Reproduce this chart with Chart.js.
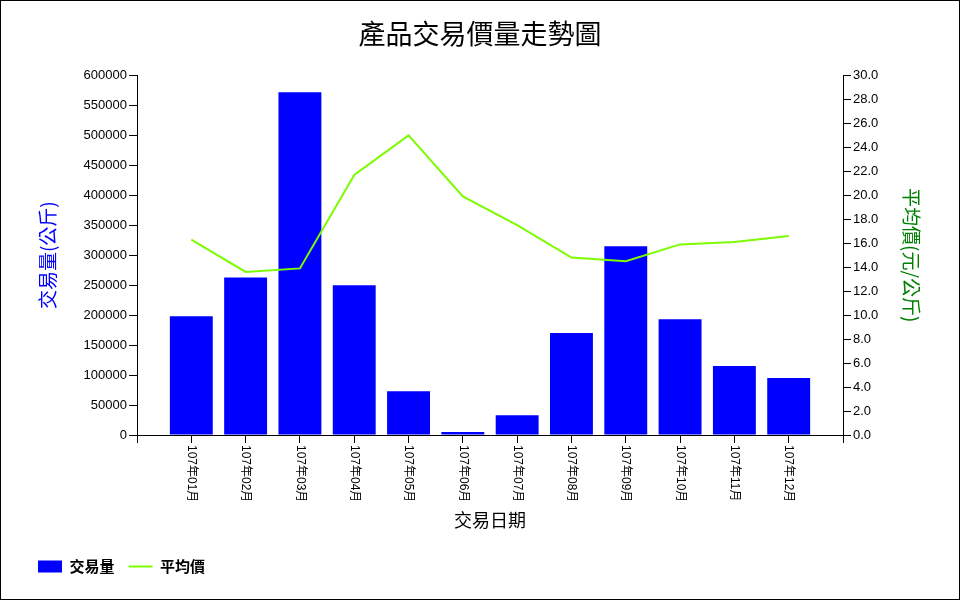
<!DOCTYPE html>
<html lang="zh-Hant">
<head>
<meta charset="utf-8">
<title>產品交易價量走勢圖</title>
<script src="https://cdn.jsdelivr.net/npm/chart.js@4.4.1/dist/chart.umd.min.js"></script>
<style>
  html, body { margin: 0; padding: 0; background: #fff; }
  canvas { display: block; }
</style>
</head>
<body>
<canvas id="myChart" width="960" height="600"></canvas>
<script>
// 交易日期
const months = ['107年01月', '107年02月', '107年03月', '107年04月', '107年05月', '107年06月',
                '107年07月', '107年08月', '107年09月', '107年10月', '107年11月', '107年12月']
// 交易量(公斤)
const volumes = [198000, 263000, 572000, 250000, 73000, 5000, 33000, 170000, 315000, 193000, 115000, 95000]
// 平均價(元/公斤)
const prices = [16.3, 13.6, 13.9, 21.7, 25.0, 19.9, 17.5, 14.8, 14.5, 15.9, 16.1, 16.6]

// 左右軸的刻度
const volumeTicks = { min: 0, max: 600000, step: 50000 }
const priceTicks = { min: 0, max: 30, step: 2 }

// 兩端留一格空位
const labels = [''].concat(months, [''])
const volumeData = [null].concat(volumes, [null])
const priceData = [null].concat(prices, [null])

const latin = '"Liberation Sans", "Noto Sans CJK TC", sans-serif'
const cjk = '"Noto Sans CJK TC", "Liberation Sans", sans-serif'

// 背景與外框
const framePlugin = {
  id: 'frame',
  beforeDraw(chart) {
    const ctx = chart.ctx
    ctx.save()
    ctx.fillStyle = '#fff'
    ctx.fillRect(0, 0, chart.width, chart.height)
    ctx.restore()
  },
  afterDraw(chart) {
    const ctx = chart.ctx
    ctx.save()
    ctx.strokeStyle = '#000'
    ctx.lineWidth = 1
    ctx.strokeRect(0.5, 0.5, chart.width - 1, chart.height - 1)
    ctx.restore()
  },
}

// x 軸標籤順時針轉 90 度
const xLabelPlugin = {
  id: 'xLabels',
  afterDraw(chart) {
    const xs = chart.scales.x
    const ctx = chart.ctx
    ctx.save()
    ctx.font = '12px ' + latin
    ctx.fillStyle = '#000'
    ctx.textAlign = 'left'
    ctx.textBaseline = 'middle'
    xs.ticks.forEach((t, i) => {
      const label = xs.getLabelForValue(t.value)
      if (!label) return
      ctx.save()
      ctx.translate(xs.getPixelForTick(i), xs.top + 10)
      ctx.rotate(Math.PI / 2)
      ctx.fillText(label, 0, 0)
      ctx.restore()
    })
    ctx.restore()
  },
}

const ctx = document.getElementById('myChart').getContext('2d')
const myChart = new Chart(ctx, {
  type: 'bar',
  data: {
    labels: labels,
    datasets: [
      {
        type: 'bar',
        label: '交易量',
        data: volumeData,
        backgroundColor: '#0000FF',
        yAxisID: 'y',
        order: 2,
        categoryPercentage: 1,
        barPercentage: 0.79,
      },
      {
        type: 'line',
        label: '平均價',
        data: priceData,
        borderColor: '#7CFC00',
        backgroundColor: '#7CFC00',
        borderWidth: 2,
        pointRadius: 0,
        tension: 0,
        yAxisID: 'y1',
        order: 1,
      },
    ],
  },
  options: {
    responsive: false,
    animation: false,
    devicePixelRatio: 1,
    layout: { padding: { left: 24, right: 24, top: 0, bottom: 16 } },
    plugins: {
      tooltip: { enabled: false },
      title: {
        display: true,
        text: '產品交易價量走勢圖',
        color: '#000',
        font: { family: cjk, size: 27, weight: 'normal' },
        padding: { top: 18, bottom: 25 },
      },
      legend: {
        position: 'bottom',
        align: 'start',
        labels: {
          usePointStyle: true,
          pointStyleWidth: 24,
          boxHeight: 12,
          padding: 14,
          color: '#000',
          font: { family: cjk, size: 15, weight: 'bold' },
          generateLabels: (chart) => chart.data.datasets.map((ds, i) => ({
            text: ds.label,
            fillStyle: ds.backgroundColor,
            strokeStyle: ds.type === 'line' ? ds.borderColor : ds.backgroundColor,
            lineWidth: ds.type === 'line' ? 2 : 0,
            pointStyle: ds.type === 'line' ? 'line' : 'rect',
            fontColor: '#000',
            hidden: false,
            datasetIndex: i,
          })),
        },
      },
    },
    scales: {
      x: {
        type: 'category',
        offset: false,
        grid: { offset: false, drawOnChartArea: false, color: '#000', tickLength: 8 },
        border: { color: '#000' },
        ticks: { display: false, autoSkip: false },
        title: {
          display: true,
          text: '交易日期',
          color: '#000',
          font: { family: cjk, size: 18 },
          padding: { top: 0, bottom: 14 },
        },
        afterFit: (s) => { s.height = 110 },
      },
      y: {
        position: 'left',
        min: volumeTicks.min,
        max: volumeTicks.max,
        grid: { drawOnChartArea: false, color: '#000', tickLength: 8 },
        border: { color: '#000' },
        ticks: {
          stepSize: volumeTicks.step,
          color: '#000',
          padding: 2,
          font: { family: latin, size: 13 },
          callback: (v) => String(v),
        },
        title: {
          display: true,
          text: '交易量(公斤)',
          color: '#0000FF',
          font: { family: cjk, size: 19 },
          padding: { top: 12, bottom: 0 },
        },
        afterFit: (s) => { s.width = 113 },
      },
      y1: {
        position: 'right',
        min: priceTicks.min,
        max: priceTicks.max,
        grid: { drawOnChartArea: false, color: '#000', tickLength: 8 },
        border: { color: '#000' },
        ticks: {
          stepSize: priceTicks.step,
          color: '#000',
          padding: 2,
          font: { family: latin, size: 13 },
          callback: (v) => Number(v).toFixed(1),
        },
        title: {
          display: true,
          text: '平均價(元/公斤)',
          color: '#008000',
          font: { family: cjk, size: 19 },
          padding: { top: 13, bottom: 0 },
        },
        afterFit: (s) => { s.width = 93 },
      },
    },
  },
  plugins: [framePlugin, xLabelPlugin],
})
</script>
</body>
</html>
